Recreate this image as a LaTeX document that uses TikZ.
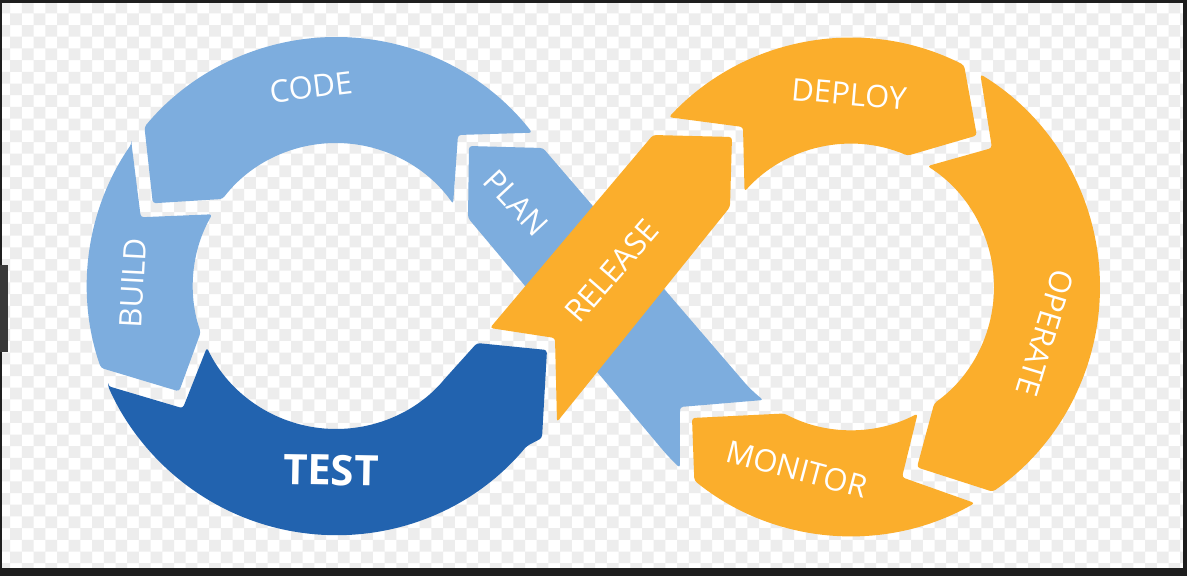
\documentclass[tikz,border=0pt]{standalone}
\usepackage{fontspec}
\setmainfont{Open Sans}
\usetikzlibrary{calc}
\definecolor{lb}{RGB}{125,173,222}
\definecolor{db}{RGB}{34,99,175}
\definecolor{og}{RGB}{251,174,44}
\definecolor{chk}{RGB}{237,237,237}
\definecolor{frm}{RGB}{30,30,30}
\tikzset{
  seg/.style={rounded corners=3pt},
  lbl/.style={text=white, inner sep=0pt, font=\fontsize{31}{31}\selectfont},
  big/.style={text=white, inner sep=0pt, font=\fontsize{42}{42}\selectfont\bfseries}
}
\begin{document}
\begin{tikzpicture}[x=1pt,y=-1pt]
\useasboundingbox (0,0) rectangle (1187,576);
\fill[white] (0,0) rectangle (1187,576);
% checkerboard background
\fill[chk] \foreach \j in {0,2,...,50} { \foreach \i in {0,2,...,102} {
  ({\i*11.7-1.5},{\j*11.7+1.6}) rectangle ++(11.7,11.7)
  ({(\i+1)*11.7-1.5},{(\j+1)*11.7+1.6}) rectangle ++(11.7,11.7) } };
% frame
\fill[frm] (0,0) rectangle (1187,3);
\fill[frm] (0,568) rectangle (1187,576);
\fill[frm] (1183,0) rectangle (1187,576);
\fill[frm] (0,0) rectangle (2,576);
\fill[frm!88!white] (0,265) rectangle (8,352);

\coordinate (L) at (336,286);
\coordinate (R) at (851,287);

% CODE
\fill[lb,seg] ($(L)+(-38:249)$) arc[start angle=-38,end angle=-140.3,radius=249]
  -- ($(L)+(-155.7:201)$) -- ($(L)+(-142.5:143)$) arc[start angle=-142.5,end angle=-35,radius=143]
  -- (458,135) -- cycle;
% BUILD
\fill[lb,seg] ($(L)+(-145.2:249)$) -- ($(L)+(-160.6:207)$) -- ($(L)+(-149.9:143)$)
  arc[start angle=-149.9,end angle=-198.9,radius=143]
  -- ($(L)+(146.1:189)$) -- ($(L)+(160.8:249)$) arc[start angle=160.8,end angle=214.8,radius=249] -- cycle;
% TEST
\fill[db,seg] ($(L)+(156.3:249)$) -- ($(L)+(141.4:196)$) -- ($(L)+(154.5:143)$)
  arc[start angle=154.5,end angle=40.2,radius=143]
  -- (477,343) -- (547,350) -- (542,438) -- ($(L)+(40:249)$) arc[start angle=40,end angle=156.3,radius=249] -- cycle;
% PLAN (under RELEASE)
\fill[lb,seg] (469,146) -- (543,148) -- ($(R)+(139.5:143)$) arc[start angle=139.5,end angle=127.8,radius=143]
  -- (680,407) -- ($(R)+(133.4:249)$) arc[start angle=133.4,end angle=139.6,radius=249]
  -- (468,218) -- cycle;
% RELEASE
\fill[og,seg] (653,135) -- (732,137) -- (730,207) -- (557,422) -- (555,338) -- (490,328) -- cycle;
% DEPLOY
\fill[og,seg] ($(R)+(-137:249)$) arc[start angle=-137,end angle=-63,radius=249]
  -- ($(R)+(-50.3:197)$) -- ($(R)+(-66.7:143)$) arc[start angle=-66.7,end angle=-138.1,radius=143]
  -- (743,127) -- cycle;
% OPERATE
\fill[og,seg] ($(R)+(-58.7:249)$) arc[start angle=-58.7,end angle=55.3,radius=249]
  -- ($(R)+(69.9:192)$) -- ($(R)+(54.4:143)$) arc[start angle=54.4,end angle=-57.7,radius=143]
  -- ($(R)+(-44.6:198)$) -- cycle;
% MONITOR
\fill[og,seg] ($(R)+(60.2:249)$) arc[start angle=60.2,end angle=129,radius=249]
  -- (692,418) -- ($(R)+(117.8:143)$) arc[start angle=117.8,end angle=62.2,radius=143]
  -- ($(R)+(75:197)$) -- cycle;

% labels
\node[lbl, rotate=7]    (code)    at (311,87)  {CODE};
\node[lbl, rotate=87]   (build)   at (133,283) {BUILD};
\node[big, rotate=-1]   (test)    at (331,470) {TEST};
\node[lbl, rotate=-47]  (plan)    at (516,203) {PLAN};
\node[lbl, rotate=49]   (release) at (612,271) {RELEASE};
\node[lbl, rotate=-5]   (deploy)  at (849,94)  {DEPLOY};
\node[lbl, rotate=-107] (operate) at (1045,333) {OPERATE};
\node[lbl, rotate=-15]  (monitor) at (797,469) {MONITOR};
\end{tikzpicture}
\end{document}
